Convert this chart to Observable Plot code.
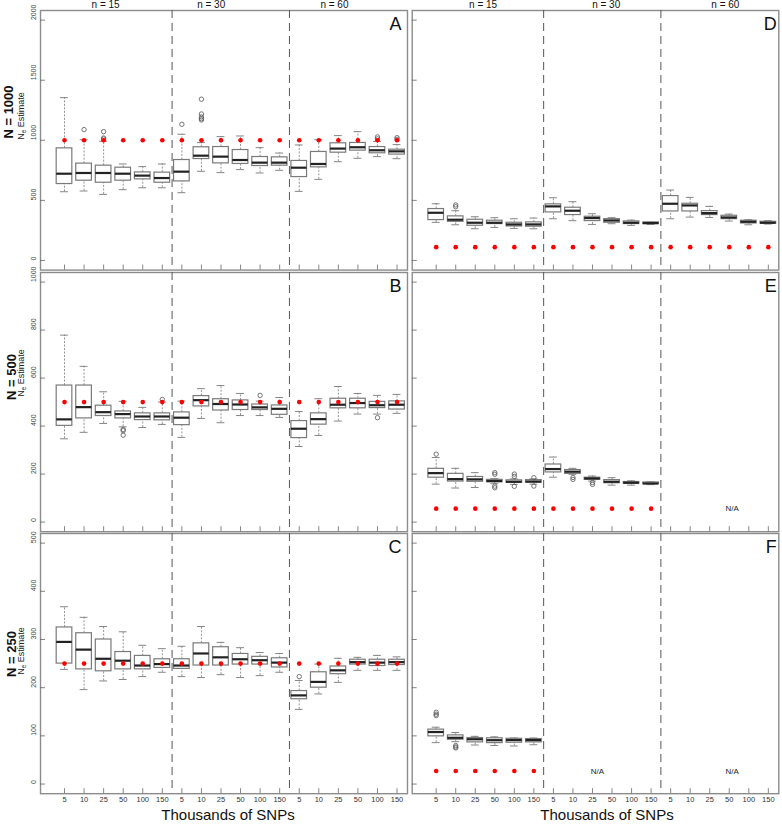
<!DOCTYPE html>
<html><head><meta charset="utf-8">
<script src="https://cdn.jsdelivr.net/npm/d3@7"></script>
<script src="https://cdn.jsdelivr.net/npm/@observablehq/plot@0.6"></script>
<style>
html,body{margin:0;padding:0;background:#fff;overflow:hidden;}
#fig{position:relative;width:782px;height:824px;overflow:hidden;font-family:"Liberation Sans",Arial,sans-serif;}
.abs{position:absolute;white-space:nowrap;line-height:1;}
.rot{transform:translate(-50%,-50%) rotate(-90deg);}
.plot{position:absolute;}
</style></head><body><div id="fig"></div><script>
// ---------- data ----------
const snpLabels = ["5","10","25","50","100","150"];
const groupLabels = ["n = 15","n = 30","n = 60"];
const headerPosLeft = [3.1, 8.5, 14.8];
const headerPosRight = [3.4, 9.7, 15.8];
const rowTitles = ["N = 1000","N = 500","N = 250"];
const panelLetters = ["A","B","C","D","E","F"];
const yTicksRows = [[0,500,1000,1500,2000],[0,200,400,600,800,1000],[0,100,200,300,400,500]];
const yDomainRows = [[-80,2080],[-40,1040],[-20,520]];

// Panel A (N=1000, left)
const aLo  = [572,578,550,589,605,605, 564,742,731,756,728,750, 575,675,822,850,864,847];
const aQ1  = [636,664,647,664,675,647, 658,844,808,803,786,789, 694,775,897,914,892,881];
const aMed = [722,728,728,722,706,686, 739,872,864,836,814,814, 772,803,931,942,917,908];
const aQ3  = [933,806,789,772,733,731, 836,942,944,919,861,858, 828,903,975,978,944,922];
const aHi  = [1355,1005,992,803,781,803, 1050,981,1031,1036,939,894, 961,1005,1039,1072,990,964];
const aOut = [[2,1089],[3,1072],[3,1019],[3,1010],[7,1133],[8,1342],[8,1219],[8,1194],[8,1180],[8,1169],[17,1028],[17,1012],[18,1022],[18,1008]];
const aTrue = 1000;
// Panel B (N=500, left)
const bLo  = [347,374,411,397,394,407, 353,432,414,444,444,436, 315,361,421,450,450,453];
const bQ1  = [401,432,442,432,425,424, 404,482,465,467,467,447, 350,406,474,474,475,469];
const bMed = [428,479,458,450,440,440, 435,508,492,490,478,472, 389,429,489,496,487,489];
const bQ3  = [569,569,485,461,453,453, 457,525,512,507,490,486, 421,453,514,514,501,503];
const bHi  = [779,649,543,503,478,500, 504,556,569,536,504,519, 461,514,565,536,528,532];
const bOut = [[4,386],[4,381],[4,362],[6,511],[11,528],[17,435]];
const bTrue = 500;
// Panel C (N=250, left)
const cLo  = [238,196,214,217,223,232, 223,221,227,221,225,232, 155,187,211,236,236,236];
const cQ1  = [250,238,234,238,238,241, 239,246,246,248,248,242, 176,200,228,248,245,247];
const cMed = [295,279,260,256,246,249, 246,271,263,259,257,252, 184,212,236,253,252,253];
const cQ3  = [325,313,300,274,266,259, 259,292,284,270,264,261, 193,232,244,258,258,258];
const cHi  = [368,346,327,316,288,281, 286,327,294,283,273,271, 215,249,261,263,267,264];
const cOut = [[13,223]];
const cTrue = 250;
// Panel D (N=1000, right)
const dLo  = [317,297,264,275,267,264, 347,331,300,306,292,300, 347,361,358,328,297,303];
const dQ1  = [336,322,289,303,283,281, 400,378,328,314,303,303, 408,408,378,344,308,306];
const dMed = [397,339,314,314,300,300, 450,414,353,333,314,311, 472,458,394,358,322,314];
const dQ3  = [428,367,339,331,314,317, 467,439,364,344,325,317, 536,472,411,372,331,322];
const dHi  = [472,414,364,356,347,353, 522,489,389,356,336,319, 586,525,450,386,339,331];
const dOut = [[2,447],[2,462]];
const dTrue = 111;
// Panel E (N=500, right)
const eLo  = [158,142,144,160,157,158, 187,199,171,154,154,156];
const eQ1  = [185,169,168,166,164,164, 207,201,176,162,160,158];
const eMed = [204,179,178,171,168,169, 221,210,182,168,164,161];
const eQ3  = [222,201,188,176,174,175, 240,217,185,175,167,165];
const eHi  = [269,224,206,181,180,180, 271,224,192,185,172,168];
const eOut = [[1,283],[4,206],[4,199],[4,150],[4,143],[5,200],[5,190],[5,149],[6,185],[6,150],[8,186],[8,178],[9,165],[9,157]];
const eTrue = 56;
const eNA = [[16.15,56]];
// Panel F (N=250, right)
const fLo  = [86,88,81,80,79,81.6];
const fQ1  = [99,92,86.5,85,85.8,86.5];
const fMed = [108,96,93,91,91.3,91.3];
const fQ3  = [113,101,95.5,95,94,93.4];
const fHi  = [118,107,99,98,95.5,95.5];
const fOut = [[1,149],[1,145],[1,142],[2,80],[2,77],[2,75]];
const fTrue = 27;
const fNA = [[9.25,27],[16.15,27]];

// ---------- layout ----------
const fig = document.getElementById("fig");
const FONT = '"Liberation Sans", Arial, sans-serif';
const xDomain = [-0.227, 18.535];
const rowFrames = [[10,269.6],[272.4,531.6],[533.4,793.6]];
const cols = [
  {left:0, width:409, ml:40, mr:2, letterDx:-6},
  {left:400, width:382, ml:11.7, mr:3.7, letterDx:-2}
];
const positions = d3.range(1,19);

function panel(side, row, lo, q1, med, q3, hi, outs, truth, letter, na) {
  const col = cols[side];
  const [ft, fb] = rowFrames[row];
  const mt = row === 0 ? 10 : 1;
  const mb = row === 2 ? 30 : 1;
  const height = mt + (fb - ft) + mb;
  const plotW = col.width - col.ml - col.mr;
  const plotH = fb - ft;
  const boxes = lo.map((v,i) => ({pos:i+1, lo:v, q1:q1[i], med:med[i], q3:q3[i], hi:hi[i]}));
  const truthPts = boxes.map(b => ({pos:b.pos, v:truth}));
  const yTicks = yTicksRows[row];
  const marks = [
    Plot.frame({stroke:"#8c8c8c", strokeWidth:1.4}),
    Plot.ruleX([6.5,12.5], {stroke:"#555", strokeDasharray:"8,5", strokeWidth:1}),
    Plot.ruleY(yTicks, {y:d=>d, insetRight:plotW-5, stroke:"#666", strokeWidth:0.8}),
    Plot.ruleX(positions, {x:d=>d, insetTop:plotH-5, stroke:"#666", strokeWidth:0.8}),
    Plot.ruleX(boxes, {x:"pos", y1:"q3", y2:"hi", stroke:"#888", strokeDasharray:"2,1.5", strokeWidth:0.9}),
    Plot.ruleX(boxes, {x:"pos", y1:"lo", y2:"q1", stroke:"#888", strokeDasharray:"2,1.5", strokeWidth:0.9}),
    Plot.ruleY(boxes, {y:"hi", x1:d=>d.pos-0.2, x2:d=>d.pos+0.2, stroke:"#777", strokeWidth:0.9}),
    Plot.ruleY(boxes, {y:"lo", x1:d=>d.pos-0.2, x2:d=>d.pos+0.2, stroke:"#777", strokeWidth:0.9}),
    Plot.rect(boxes, {x1:d=>d.pos-0.4, x2:d=>d.pos+0.4, y1:"q1", y2:"q3", fill:"white", stroke:"#7a7a7a", strokeWidth:1.2}),
    Plot.ruleY(boxes, {y:"med", x1:d=>d.pos-0.4, x2:d=>d.pos+0.4, stroke:"#222", strokeWidth:2.2}),
    Plot.dot(outs, {x:d=>d[0], y:d=>d[1], r:2.2, stroke:"#555", fill:"none", strokeWidth:0.8}),
    Plot.dot(truthPts, {x:"pos", y:"v", r:2.3, fill:"#ff0000", stroke:"none"}),
    Plot.text([letter], {frameAnchor:"top-right", dx:col.letterDx, dy:7, text:d=>d, fontSize:18, textAnchor:"end", lineAnchor:"top", fill:"#111"})
  ];
  if (na) marks.push(Plot.text(na, {x:d=>d[0], y:d=>d[1], text:()=>"N/A", fontSize:8, fill:"#222"}));
  if (side === 0) {
    marks.push(Plot.text(yTicks, {y:d=>d, frameAnchor:"left", dx:-7, rotate:-90, text:d=>String(d), fontSize:7, fill:"#444"}));
  }
  if (row === 0) {
    const hp = side === 0 ? headerPosLeft : headerPosRight;
    marks.push(Plot.text(groupLabels, {x:(d,i)=>hp[i], frameAnchor:"top", dy:-2, lineAnchor:"bottom", text:d=>d, fontSize:10, fill:"#111"}));
  }
  if (row === 2) {
    marks.push(Plot.axisX({ticks:positions, tickFormat:d=>snpLabels[(d-1)%6], tickSize:0, tickPadding:3, fontSize:7.5, fill:"#333", label:null}));
  }
  const svg = Plot.plot({
    width: col.width, height,
    marginLeft: col.ml, marginRight: col.mr, marginTop: mt, marginBottom: mb,
    x: {domain:xDomain, axis:null},
    y: {domain:yDomainRows[row], axis:null},
    style: {background:"transparent", fontFamily:FONT, overflow:"visible"},
    marks
  });
  svg.classList.add("plot");
  svg.style.left = col.left + "px";
  svg.style.top = (ft - mt) + "px";
  fig.appendChild(svg);
}

panel(0,0,aLo,aQ1,aMed,aQ3,aHi,aOut,aTrue,panelLetters[0],null);
panel(0,1,bLo,bQ1,bMed,bQ3,bHi,bOut,bTrue,panelLetters[1],null);
panel(0,2,cLo,cQ1,cMed,cQ3,cHi,cOut,cTrue,panelLetters[2],null);
panel(1,0,dLo,dQ1,dMed,dQ3,dHi,dOut,dTrue,panelLetters[3],null);
panel(1,1,eLo,eQ1,eMed,eQ3,eHi,eOut,eTrue,panelLetters[4],eNA);
panel(1,2,fLo,fQ1,fMed,fQ3,fHi,fOut,fTrue,panelLetters[5],fNA);

// ---------- row titles & axis titles ----------
const titleCenters = [[7.5,111.5],[10.5,377],[11,654]];
const subCenters = [[21.5,116],[22,373],[22,651]];
rowTitles.forEach((t,i) => {
  const d = document.createElement("div");
  d.className = "abs rot";
  d.style.cssText += `left:${titleCenters[i][0]}px;top:${titleCenters[i][1]}px;font-size:13px;font-weight:bold;color:#111;`;
  d.textContent = t;
  fig.appendChild(d);
  const s = document.createElement("div");
  s.className = "abs rot";
  s.style.cssText += `left:${subCenters[i][0]}px;top:${subCenters[i][1]}px;font-size:9px;color:#222;`;
  s.innerHTML = 'N<sub style="font-size:6.5px;vertical-align:-2px">e</sub> Estimate';
  fig.appendChild(s);
});
[228, 607].forEach(cx => {
  const d = document.createElement("div");
  d.className = "abs";
  d.style.cssText += `left:${cx}px;top:806px;transform:translateX(-50%);font-size:15px;line-height:17px;color:#111;`;
  d.textContent = "Thousands of SNPs";
  fig.appendChild(d);
});
</script></body></html>
